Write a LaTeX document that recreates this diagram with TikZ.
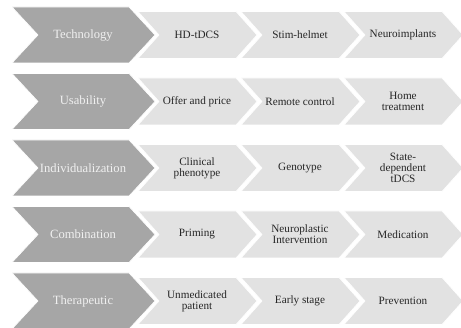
\documentclass[tikz,border=0pt]{standalone}
\usepackage{fontspec}
\setmainfont{Liberation Serif}
\definecolor{darkfill}{RGB}{166,166,166}
\definecolor{lightfill}{RGB}{226,226,226}
\definecolor{darktext}{RGB}{240,240,240}
\definecolor{lighttext}{RGB}{38,38,38}
\newcommand{\mychev}[6]{%
  \path[#1] ({#2},{#3-#5}) -- ({#2+#4},{#3-#5}) -- ({#2+#4+#6},{#3}) --
    ({#2+#4},{#3+#5}) -- ({#2},{#3+#5}) -- ({#2+#6},{#3}) -- cycle;}
\tikzset{
  darkchev/.style={fill=darkfill, draw=white, line width=0.6pt},
  lightchev/.style={fill=lightfill, draw=white, line width=0.6pt},
  darklabel/.style={text=darktext, font=\fontsize{12.6}{14}\selectfont, align=center, inner sep=0pt},
  lightlabel/.style={text=lighttext, font=\fontsize{11.2}{10.8}\selectfont, align=center, inner sep=0pt},
}
\begin{document}
\begin{tikzpicture}[x=1pt,y=-1pt]
\useasboundingbox (0,0) rectangle (461,328);
\fill[white] (0,0) rectangle (461,328);
\foreach \c/\lab/\ta/\tb/\tc [count=\i] in {
  35/Technology/HD-tDCS/Stim-helmet/Neuroimplants,
  101.5/Usability/Offer and price/Remote control/{Home\\treatment},
  168/Individualization/{Clinical\\phenotype}/Genotype/{State-\\dependent\\tDCS},
  234.5/Combination/Priming/{Neuroplastic\\Intervention}/Medication,
  301/Therapeutic/{Unmedicated\\patient}/Early stage/Prevention}{
  % light chevrons
  \mychev{lightchev}{138}{\c}{98}{23.5}{21}
  \mychev{lightchev}{241}{\c}{98}{23.5}{21}
  \mychev{lightchev}{344}{\c}{98}{23.5}{21}
  % dark chevron
  \mychev{darkchev}{12}{\c}{117}{28}{26}
  \node[darklabel] (d\i) at (83,\c) {\lab};
  \node[lightlabel] (a\i) at (197,\c) {\ta};
  \node[lightlabel] (b\i) at (300,\c) {\tb};
  \node[lightlabel] (e\i) at (403,\c) {\tc};
}
\end{tikzpicture}
\end{document}
